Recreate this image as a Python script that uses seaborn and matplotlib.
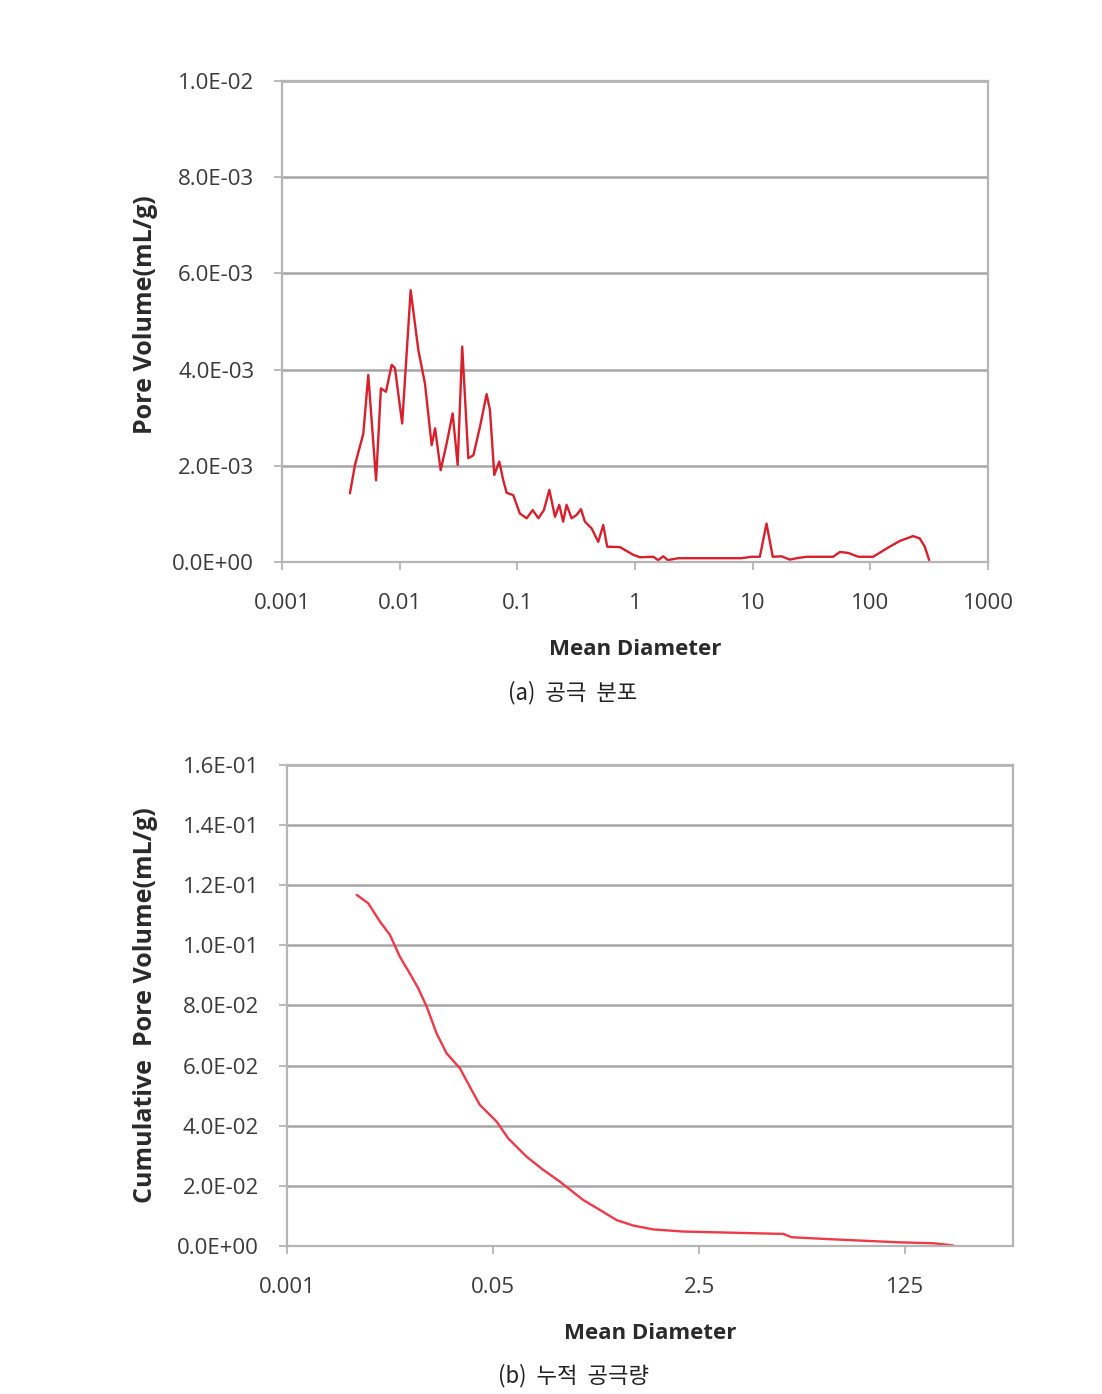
import numpy as np
import pandas as pd
import matplotlib
matplotlib.use("Agg")
import matplotlib.pyplot as plt
import matplotlib.ticker as mticker
import seaborn as sns

# ---- data ----
dist_diameter = [0.00378, 0.00417, 0.00491, 0.00541, 0.0063, 0.00693, 0.00765, 0.00855, 0.00912,
                 0.0105, 0.0124, 0.0144, 0.0164, 0.0187, 0.020, 0.0223, 0.0251, 0.0282, 0.0311,
                 0.034, 0.0383, 0.0423, 0.0481, 0.0548, 0.0585, 0.0637, 0.0702, 0.0759, 0.0811,
                 0.0923, 0.105, 0.12, 0.135, 0.151, 0.168, 0.187, 0.209, 0.227, 0.245, 0.262,
                 0.289, 0.319, 0.347, 0.375, 0.428, 0.487, 0.537, 0.58, 0.745, 0.877, 0.966,
                 1.1, 1.43, 1.57, 1.74, 1.9, 2.33, 3.12, 4.33, 5.09, 6.0, 8.05, 9.78, 11.5,
                 13.1, 14.8, 17.6, 20.7, 23.6, 28.7, 48.3, 55.1, 64.8, 78.9, 105.7, 137, 178,
                 231, 263, 290, 316]
dist_volume = [1.43e-3, 2.02e-3, 2.67e-3, 3.89e-3, 1.70e-3, 3.61e-3, 3.54e-3, 4.10e-3, 4.03e-3,
               2.88e-3, 5.65e-3, 4.41e-3, 3.71e-3, 2.43e-3, 2.78e-3, 1.91e-3, 2.47e-3, 3.09e-3, 2.02e-3,
               4.48e-3, 2.16e-3, 2.22e-3, 2.81e-3, 3.49e-3, 3.16e-3, 1.81e-3, 2.09e-3, 1.70e-3, 1.44e-3,
               1.39e-3, 1.01e-3, 0.91e-3, 1.08e-3, 0.91e-3, 1.08e-3, 1.50e-3, 0.94e-3, 1.19e-3, 0.84e-3, 1.19e-3,
               0.91e-3, 0.98e-3, 1.10e-3, 0.84e-3, 0.70e-3, 0.42e-3, 0.77e-3, 0.32e-3, 0.31e-3, 0.21e-3, 0.15e-3,
               0.10e-3, 0.11e-3, 0.04e-3, 0.12e-3, 0.04e-3, 0.08e-3, 0.08e-3, 0.08e-3, 0.08e-3, 0.08e-3, 0.08e-3, 0.11e-3, 0.11e-3,
               0.80e-3, 0.11e-3, 0.12e-3, 0.05e-3, 0.08e-3, 0.11e-3, 0.11e-3, 0.21e-3, 0.19e-3, 0.11e-3, 0.11e-3, 0.28e-3, 0.44e-3,
               0.54e-3, 0.49e-3, 0.32e-3, 0.04e-3]

cum_diameter = [0.00376, 0.00468, 0.00585, 0.00706, 0.00854, 0.01067, 0.0121, 0.0142, 0.0171,
                0.0207, 0.0267, 0.0333, 0.039, 0.0535, 0.0667, 0.0946, 0.13, 0.178, 0.277,
                0.38, 0.523, 0.716, 1.05, 1.85, 4.78, 12.4, 14.5, 31.9, 60.1, 113, 213, 311]
cum_volume = [0.1168, 0.114, 0.1079, 0.1035, 0.0962, 0.0896, 0.0857, 0.0796, 0.0708,
              0.0641, 0.0591, 0.0519, 0.0469, 0.0414, 0.0358, 0.0297, 0.0253, 0.0214, 0.0153,
              0.012, 0.0086, 0.0068, 0.0055, 0.0048, 0.0044, 0.0040, 0.0029, 0.0022, 0.0017, 0.0012, 0.0009, 0.0002]

top_xticks = [0.001, 0.01, 0.1, 1, 10, 100, 1000]
top_xlabels = ["0.001", "0.01", "0.1", "1", "10", "100", "1000"]
bot_xticks = [0.001, 0.05, 2.5, 125]
bot_xlabels = ["0.001", "0.05", "2.5", "125"]
top_yticks = [0, 0.002, 0.004, 0.006, 0.008, 0.010]
bot_yticks = [0, 0.02, 0.04, 0.06, 0.08, 0.10, 0.12, 0.14, 0.16]

df_dist = pd.DataFrame({"d": dist_diameter, "v": dist_volume})
df_cum = pd.DataFrame({"d": cum_diameter, "v": cum_volume})

sns.set_style("white")
plt.rcParams['font.family'] = ['Open Sans', 'DejaVu Sans']

fig = plt.figure(figsize=(11.02, 13.94), dpi=100)
ax1 = fig.add_axes([0.2559, 0.5968, 0.6407, 0.3451])
ax2 = fig.add_axes([0.2604, 0.1062, 0.6588, 0.3450])

grid_c = "#a6a6a6"
spine_c = "#b5b5b5"
tick_c = "#3a3a3a"

def style(ax, xticks, xlabels, yticks, xlim, ylim, ylabel):
    ax.set_xscale("log")
    ax.set_xlim(*xlim)
    ax.set_ylim(*ylim)
    ax.xaxis.set_major_locator(mticker.FixedLocator(xticks))
    ax.xaxis.set_major_formatter(mticker.FixedFormatter(xlabels))
    ax.xaxis.set_minor_locator(mticker.NullLocator())
    ax.yaxis.set_major_locator(mticker.FixedLocator(yticks))
    ax.yaxis.set_major_formatter(mticker.FuncFormatter(lambda v, p: f"{v:.1E}"))
    ax.grid(axis="y", color=grid_c, linewidth=1.8)
    ax.grid(axis="x", visible=False)
    for s in ax.spines.values():
        s.set_color(spine_c)
        s.set_linewidth(1.6)
    ax.tick_params(axis="both", which="major", length=6, width=1.3, color=spine_c,
                   labelsize=16, labelcolor=tick_c, direction="out", bottom=True, left=True)
    ax.tick_params(axis="x", pad=16)
    ax.tick_params(axis="y", pad=14)
    ax.set_xlabel("Mean Diameter", fontsize=16, fontweight="bold", color="#2a2a2a", labelpad=18)
    ax.set_ylabel(ylabel, fontsize=18, fontweight="bold", color="#2a2a2a")
    ax.set_axisbelow(True)

sns.lineplot(data=df_dist, x="d", y="v", ax=ax1, color="#d8202c", linewidth=1.7)
style(ax1, top_xticks, top_xlabels, top_yticks, (0.001, 1000), (0, 0.010),
      "Pore Volume(mL/g)")
ax1.yaxis.set_label_coords(-0.175, 0.515)

sns.lineplot(data=df_cum, x="d", y="v", ax=ax2, color="#ee3a48", linewidth=1.7)
style(ax2, bot_xticks, bot_xlabels, bot_yticks, (0.001, 970), (0, 0.16),
      "Cumulative  Pore Volume(mL/g)")
ax2.yaxis.set_label_coords(-0.177, 0.5)

fig.text(0.52, 1 - 693 / 1394, "(a)  공극  분포", ha="center", va="center", fontsize=16,
         family=['Noto Sans CJK KR', 'DejaVu Sans'], color="#222222")
fig.text(0.52, 1 - 1376 / 1394, "(b)  누적  공극량", ha="center", va="center", fontsize=16,
         family=['Noto Sans CJK KR', 'DejaVu Sans'], color="#222222")

fig.savefig("out.png", dpi=100, facecolor="white")
